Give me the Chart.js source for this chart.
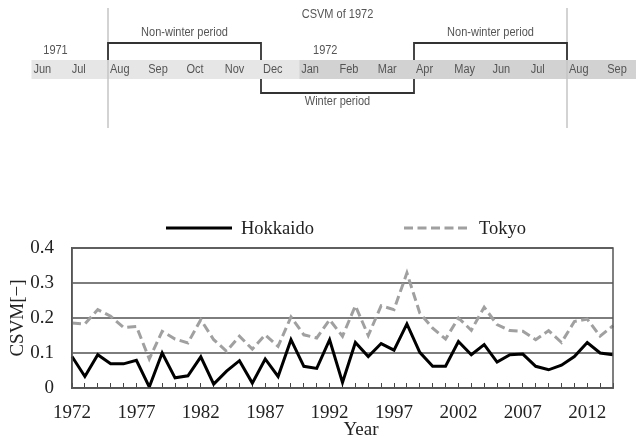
<!DOCTYPE html>
<html>
<head>
<meta charset="utf-8">
<script src="https://cdn.jsdelivr.net/npm/chart.js@4.4.1/dist/chart.umd.min.js"></script>
<style>
  html, body { margin: 0; padding: 0; background: #ffffff; }
  #wrap { width: 636px; height: 440px; position: relative; }
</style>
</head>
<body>
<div id="wrap"><canvas id="c" width="636" height="440"></canvas></div>
<script>
// Years on the x axis
const years = [1972, 1973, 1974, 1975, 1976, 1977, 1978, 1979, 1980, 1981,
               1982, 1983, 1984, 1985, 1986, 1987, 1988, 1989, 1990, 1991,
               1992, 1993, 1994, 1995, 1996, 1997, 1998, 1999, 2000, 2001,
               2002, 2003, 2004, 2005, 2006, 2007, 2008, 2009, 2010, 2011,
               2012, 2013, 2014];

// CSVM per year
const hokkaido = [0.090, 0.033, 0.095, 0.069, 0.069, 0.079, 0.003, 0.100, 0.029, 0.035,
                  0.089, 0.011, 0.048, 0.078, 0.014, 0.083, 0.033, 0.138, 0.062, 0.056,
                  0.138, 0.016, 0.130, 0.090, 0.127, 0.108, 0.183, 0.102, 0.062, 0.062,
                  0.133, 0.095, 0.124, 0.074, 0.095, 0.097, 0.062, 0.052, 0.065, 0.090,
                  0.130, 0.100, 0.095];
const tokyo = [0.186, 0.183, 0.224, 0.205, 0.173, 0.176, 0.083, 0.162, 0.140, 0.129,
               0.195, 0.138, 0.105, 0.148, 0.111, 0.152, 0.119, 0.203, 0.152, 0.143,
               0.195, 0.148, 0.235, 0.150, 0.235, 0.224, 0.329, 0.214, 0.171, 0.140,
               0.200, 0.165, 0.231, 0.181, 0.164, 0.162, 0.138, 0.164, 0.130, 0.190,
               0.197, 0.148, 0.178];

// Y axis
const yMin = 0, yMax = 0.4, yStep = 0.1;
const labelEvery = 5;

// Timeline diagram above the chart
const timelineMonths = ['Jun', 'Jul', 'Aug', 'Sep', 'Oct', 'Nov', 'Dec', 'Jan',
                        'Feb', 'Mar', 'Apr', 'May', 'Jun', 'Jul', 'Aug', 'Sep'];
const timelineTitle = 'CSVM of 1972';
const yearMarks = [{ text: '1971', month: 0 }, { text: '1972', month: 7 }];
const periods = [
  { text: 'Non-winter period', from: 2, to: 6, side: 'top' },
  { text: 'Winter period', from: 6, to: 10, side: 'bottom' },
  { text: 'Non-winter period', from: 10, to: 14, side: 'top' }
];
const boundaryLines = [2, 14];
const newYearMonth = 7;

const SERIF = '"Liberation Serif", "Times New Roman", serif';
const SANS = '"Liberation Sans", Arial, sans-serif';

// narrow-looking label: regular sans squeezed horizontally
function narrowText(ctx, text, x, y, align) {
  const sx = 0.88;
  ctx.save();
  ctx.translate(x, y);
  ctx.scale(sx, 1);
  ctx.textAlign = align;
  ctx.fillText(text, 0, 0);
  ctx.restore();
}

// Diagram of the CSVM year split into winter / non-winter periods
const timelinePlugin = {
  id: 'timeline',
  afterDraw(chart) {
    const ctx = chart.ctx;
    const x0 = 31.5, mw = 38.25;           // month origin and width
    const stripTop = 60, stripBot = 79;
    const mx = m => x0 + m * mw;
    ctx.save();
    // month strip, later year shaded darker
    ctx.fillStyle = '#e6e6e6';
    ctx.fillRect(mx(0), stripTop, mx(newYearMonth) - mx(0), stripBot - stripTop);
    ctx.fillStyle = '#d2d2d2';
    ctx.fillRect(mx(newYearMonth), stripTop, 636 - mx(newYearMonth), stripBot - stripTop);
    // boundary lines of the CSVM year
    ctx.strokeStyle = '#c4c4c4';
    ctx.lineWidth = 1.5;
    boundaryLines.forEach(m => {
      ctx.beginPath();
      ctx.moveTo(mx(m), 8);
      ctx.lineTo(mx(m), 128);
      ctx.stroke();
    });
    // month names
    ctx.fillStyle = '#555';
    ctx.font = '12.5px ' + SANS;
    ctx.textBaseline = 'middle';
    timelineMonths.forEach((t, i) => narrowText(ctx, t, mx(i) + 2, (stripTop + stripBot) / 2 + 0.5, 'left'));
    // year marks and title
    yearMarks.forEach(y => narrowText(ctx, y.text, mx(y.month) + (y.month === 0 ? 24 : 26), 51, 'center'));
    narrowText(ctx, timelineTitle, (mx(6) + mx(10)) / 2, 15, 'center');
    // period brackets
    ctx.strokeStyle = '#333';
    ctx.lineWidth = 1.8;
    periods.forEach(p => {
      const a = mx(p.from), b = mx(p.to);
      ctx.beginPath();
      if (p.side === 'top') {
        ctx.moveTo(a, stripTop); ctx.lineTo(a, 43); ctx.lineTo(b, 43); ctx.lineTo(b, stripTop);
      } else {
        ctx.moveTo(a, stripBot); ctx.lineTo(a, 93); ctx.lineTo(b, 93); ctx.lineTo(b, stripBot);
      }
      ctx.stroke();
      narrowText(ctx, p.text, (a + b) / 2, p.side === 'top' ? 33 : 102, 'center');
    });
    ctx.restore();
  }
};

// Legend, plot frame and axis title for the line chart
const framePlugin = {
  id: 'frame',
  afterDraw(chart) {
    const ctx = chart.ctx;
    const a = chart.chartArea;
    ctx.save();
    ctx.strokeStyle = '#555';
    ctx.lineWidth = 1.5;
    ctx.strokeRect(a.left, a.top, a.right - a.left, a.bottom - a.top);

    const items = [
      { ds: chart.data.datasets[0], x: 166 },
      { ds: chart.data.datasets[1], x: 404 }
    ];
    ctx.font = '18.5px ' + SERIF;
    ctx.textBaseline = 'middle';
    ctx.textAlign = 'left';
    items.forEach(it => {
      ctx.strokeStyle = it.ds.borderColor;
      ctx.lineWidth = it.ds.borderWidth;
      ctx.setLineDash(it.ds.borderDash || []);
      ctx.beginPath();
      ctx.moveTo(it.x, 228);
      ctx.lineTo(it.x + 66, 228);
      ctx.stroke();
      ctx.setLineDash([]);
      ctx.fillStyle = '#222';
      ctx.fillText(it.ds.label, it.x + 75, 229);
    });

    ctx.font = '19px ' + SERIF;
    ctx.textAlign = 'center';
    ctx.textBaseline = 'alphabetic';
    ctx.fillStyle = '#222';
    ctx.fillText('Year', 361, 435);
    ctx.restore();
  }
};

new Chart(document.getElementById('c'), {
  type: 'line',
  data: {
    labels: years,
    datasets: [
      {
        label: 'Hokkaido',
        data: hokkaido,
        borderColor: '#000000',
        borderWidth: 3,
        pointRadius: 0,
        tension: 0
      },
      {
        label: 'Tokyo',
        data: tokyo,
        borderColor: '#a0a0a0',
        borderWidth: 3,
        borderDash: [9, 4.5],
        pointRadius: 0,
        tension: 0
      }
    ]
  },
  options: {
    responsive: false,
    animation: false,
    devicePixelRatio: 1,
    layout: { padding: { top: 248, right: 23, left: 0, bottom: 0 } },
    plugins: {
      legend: { display: false },
      tooltip: { enabled: false }
    },
    scales: {
      x: {
        type: 'category',
        offset: false,
        afterFit: s => { s.height = 52; },
        grid: {
          display: true,
          drawOnChartArea: false,
          drawTicks: true,
          tickLength: -5,
          color: '#444',
          lineWidth: 1
        },
        border: { display: true, color: '#555', width: 1.5 },
        ticks: {
          autoSkip: false,
          maxRotation: 0,
          padding: 19,
          color: '#222',
          font: { family: SERIF, size: 19 },
          callback: (v, i) => (i % labelEvery === 0 ? String(years[i]) : '')
        }
      },
      y: {
        min: yMin,
        max: yMax,
        afterFit: s => { s.width = 72; },
        grid: {
          color: '#7d7d7d',
          lineWidth: 2,
          drawTicks: false
        },
        border: { display: true, color: '#555', width: 1.5 },
        ticks: {
          stepSize: yStep,
          padding: 18,
          color: '#222',
          font: { family: SERIF, size: 19 },
          callback: v => (v === 0 ? '0' : v.toFixed(1))
        },
        title: {
          display: true,
          text: 'CSVM[−]',
          color: '#222',
          font: { family: SERIF, size: 19 },
          padding: { top: 7, bottom: 0 }
        }
      }
    }
  },
  plugins: [timelinePlugin, framePlugin]
});
</script>
</body>
</html>
